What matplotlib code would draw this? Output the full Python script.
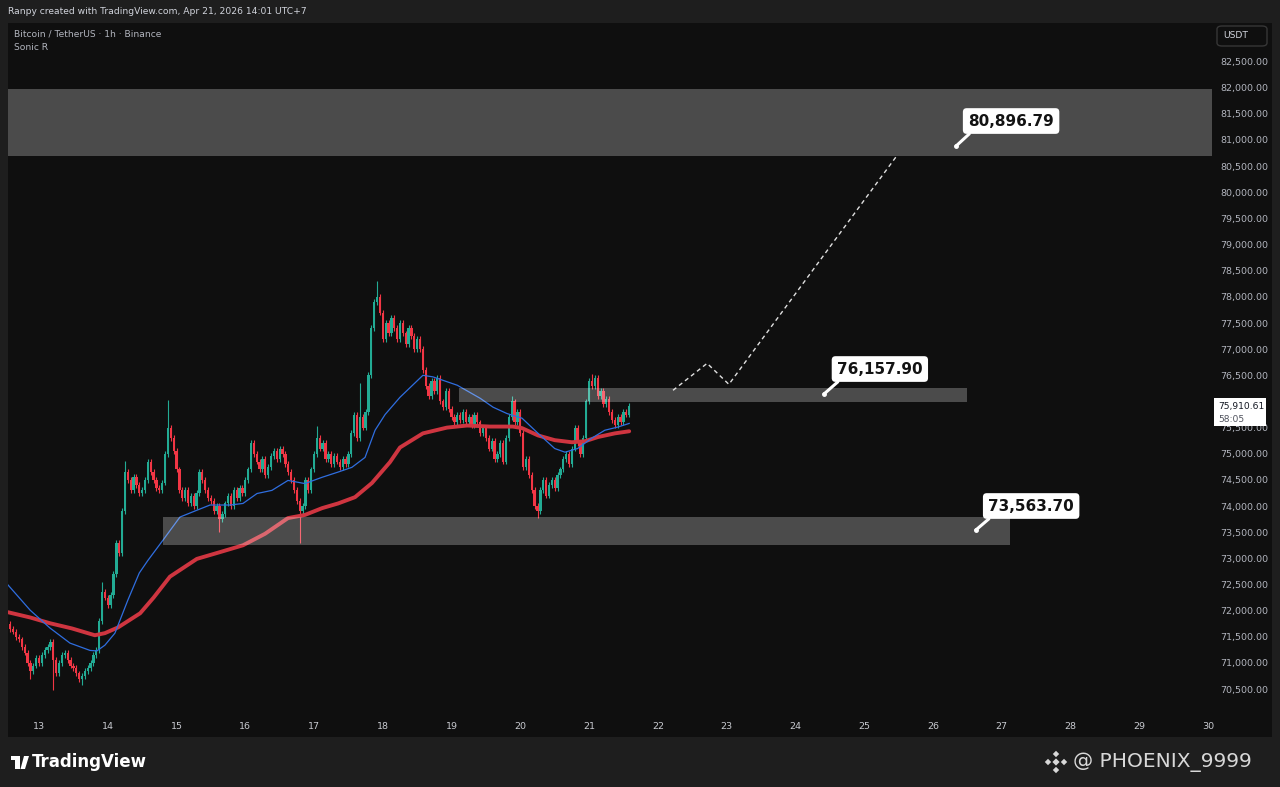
import numpy as np
import matplotlib
matplotlib.use("Agg")
import matplotlib.pyplot as plt
from matplotlib.patches import Rectangle, FancyBboxPatch, Polygon

plt.rcParams['font.family'] = ['DejaVu Sans']

# ---- data (hours counted from Apr 13 00:00, 1h candles) ----
hours = np.arange(-10, 207)
closes = [
    # Apr 12 14:00 - 23:00
    71650, 71600, 71500, 71450, 71300, 71200, 71000, 70850, 70950, 71100,
    # Apr 13
    71000, 71150, 71250, 71300, 71400, 71050, 70800, 71000, 71150, 71200, 71050, 70950,
    70900, 70800, 70700, 70750, 70850, 70900, 71000, 71150, 71250, 71800, 72350, 72250,
    # Apr 14
    72100, 72300, 72700, 73300, 73100, 73900, 74650, 74500, 74300, 74550, 74400, 74250,
    74300, 74500, 74850, 74650, 74500, 74350, 74300, 74450, 75000, 75500, 75300, 75050,
    # Apr 15
    74700, 74300, 74150, 74300, 74050, 74200, 74000, 74250, 74650, 74500, 74300, 74150,
    74100, 73900, 74000, 73750, 73850, 74050, 74200, 74000, 74300, 74150, 74350, 74250,
    # Apr 16
    74500, 74700, 75200, 75000, 74850, 74700, 74900, 74600, 74750, 74950, 75050, 74900,
    75100, 75000, 74800, 74650, 74500, 74300, 74100, 73900, 74000, 74500, 74300, 74700,
    # Apr 17
    75000, 75300, 75100, 75200, 74900, 75000, 74800, 74950, 74850, 74750, 74900, 74800,
    75000, 75400, 75750, 75300, 75700, 75500, 75800, 76500, 77400, 77900, 78000, 77700,
    # Apr 18
    77200, 77500, 77300, 77600, 77400, 77200, 77500, 77300, 77100, 77400, 77250, 77000,
    77200, 77000, 76600, 76300, 76100, 76400, 76200, 76450, 76000, 75900, 76200, 75850,
    # Apr 19
    75700, 75600, 75750, 75650, 75800, 75600, 75700, 75550, 75750, 75600, 75400, 75500,
    75300, 75100, 75250, 74900, 75000, 75200, 74850, 75300, 75700, 76000, 75600, 75800,
    # Apr 20
    75400, 74750, 74900, 74600, 74300, 74000, 73900, 74300, 74500, 74200, 74400, 74500,
    74350, 74600, 74700, 74900, 75000, 74800, 75100, 75500, 75200, 75000, 75300, 76000,
    # Apr 21
    76400, 76300, 76450, 76100, 76200, 75950, 76050, 75800, 75650, 75550, 75700, 75600,
    75800, 75750, 75910.61,
]
first_open = 71750
# long wicks (hour -> price)
wick_high = {22: 72550, 30: 74870, 45: 76020, 97: 75540, 112: 76350,
             118: 78310, 165: 76100, 193: 76530}
wick_low = {-3: 70700, 5: 70480, 15: 70575, 63: 73500, 91: 73290, 174: 73770}

# Sonic R moving averages (hour, price)
fast_t = [-10.8, -3.1, 3.8, 10.8, 17.8, 20.2, 23, 26.5, 31, 35, 38, 43.3, 49.2, 55.1,
          59.7, 66.7, 71.2, 76.1, 81.3, 86.9, 92.8, 98.8, 104.4, 109.2, 113.8, 117.3,
          120.8, 126, 134, 137.5, 146, 154, 158.5, 163.3, 168.6, 174.2, 180, 183.6,
          188, 193, 197.5, 202, 206]
fast_ma = [72490, 72010, 71670, 71380, 71240, 71230, 71340, 71570, 72200, 72720, 72960,
           73350, 73790, 73920, 74020, 74020, 74050, 74240, 74300, 74490, 74430, 74550,
           74650, 74740, 74930, 75450, 75750, 76080, 76500, 76470, 76310, 76060, 75890,
           75770, 75680, 75390, 75100, 75030, 75100, 75300, 75450, 75510, 75580]
slow_t = [-10.8, -3.1, 3.8, 11.5, 19.5, 23, 27.6, 35.3, 40, 45.7, 55.1, 63.2, 71.2,
          78.9, 86.9, 92.8, 98.8, 104.4, 110.3, 116.2, 122.5, 126, 134, 142.4, 149.4,
          157.4, 165.4, 168.6, 174.2, 180, 186, 190.6, 195.1, 201, 206]
slow_ma = [71970, 71870, 71760, 71660, 71530, 71570, 71680, 71950, 72250, 72650, 72990,
           73120, 73250, 73470, 73770, 73830, 73960, 74050, 74170, 74440, 74840, 75120,
           75390, 75500, 75540, 75520, 75520, 75490, 75350, 75260, 75220, 75240, 75320,
           75390, 75430]

# zones (hour start, hour end, low, high)
zones = [(-12, 412, 80685, 81965),
         (146.6, 323.9, 75985, 76250),
         (43.3, 338.9, 73250, 73786)]

# projected path
path_t = [221.3, 233.2, 240.8, 299.5]
path_p = [76213, 76729, 76327, 80704]

# callouts: text, point (hour, price), box centre (hour, price)
callouts = [("80,896.79", (320.1, 80884), (339.3, 81362)),
            ("76,157.90", (274.0, 76143), (293.5, 76620)),
            ("73,563.70", (327.0, 73542), (346.3, 74001))]

day_labels = [str(d) for d in range(13, 31)]
day_ticks = [24 * i for i in range(len(day_labels))]
price_ticks = list(range(70500, 83000, 500))
last_price = closes[-1]

# ---- style ----
BG = '#0f0f0f'
OUTER = '#1e1e1e'
UP = '#22ab94'
DOWN = '#f23645'
TXT = '#b2b5be'
W, H = 1280, 787


def fx(x, y):
    return x / W, 1 - y / H


fig = plt.figure(figsize=(12.8, 7.87), dpi=100, facecolor=OUTER)
fig.patches.append(Rectangle(fx(8, 737), 1264 / W, 714 / H, transform=fig.transFigure,
                             facecolor=BG, edgecolor='none', zorder=-1))

ax = fig.add_axes([8 / W, 1 - 715 / H, 1204 / W, 692 / H])
ax.set_facecolor(BG)
for s in ax.spines.values():
    s.set_visible(False)

# candles
opens = [first_open] + closes[:-1]
o = np.array(opens, float)
c = np.array(closes, float)
WICK_PAD = 55
hi = np.maximum(o, c) + WICK_PAD
lo = np.minimum(o, c) - WICK_PAD
for h, v in wick_high.items():
    hi[h + 10] = v
for h, v in wick_low.items():
    lo[h + 10] = v
cols = np.where(c >= o, UP, DOWN)
ax.vlines(hours, lo, hi, colors=cols, lw=0.8, zorder=3)
body = np.where(np.abs(c - o) < 25, 25, c - o)
ax.bar(hours, body, bottom=o, width=0.8, color=cols, linewidth=0, zorder=4)

# moving averages
ax.plot(slow_t, slow_ma, color='#cf3540', lw=2.8, solid_capstyle='round',
        solid_joinstyle='round', zorder=5)
ax.plot(fast_t, fast_ma, color='#2f6ee0', lw=0.9, solid_joinstyle='round', zorder=5)

# zones
for t0, t1, p0, p1 in zones:
    ax.add_patch(Rectangle((t0, p0), t1 - t0, p1 - p0, facecolor='white', alpha=0.25,
                           edgecolor='none', zorder=6))

# projection
ax.plot(path_t, path_p, color='#e0e0e0', lw=1.0, ls=(0, (3, 2.5)), zorder=7)

# callouts
for txt, pt, ctr in callouts:
    ax.plot(*pt, 'o', color='white', ms=2.5, zorder=8)
    ax.annotate(txt, xy=pt, xytext=ctr, ha='center', va='center', fontsize=11,
                fontweight='bold', color='#131313', zorder=9,
                bbox=dict(boxstyle='round,pad=0.35,rounding_size=0.25', fc='white',
                          ec='none'),
                arrowprops=dict(arrowstyle='-', color='white', lw=2.2, shrinkA=0,
                                shrinkB=0, relpos=(0.08, 0.0)))

ax.set_xlim((8 - 39) / 2.865, (1212 - 39) / 2.865)
ax.set_ylim(82500 - 653.5 * 19.12, 82500 + 38.5 * 19.12)
ax.set_xticks(day_ticks)
ax.set_xticklabels(day_labels)
ax.yaxis.tick_right()
ax.set_yticks(price_ticks)
ax.set_yticklabels([f"{p:,.2f}" for p in price_ticks])
ax.tick_params(axis='both', length=0, colors=TXT, labelsize=6.8)
ax.tick_params(axis='x', pad=5, colors='#c8cad0')
ax.tick_params(axis='y', pad=6)
# the 76,000 label sits under the live price tag
for lbl, p in zip(ax.get_yticklabels(), price_ticks):
    if p == 76000:
        lbl.set_visible(False)

# current price tag
fig.patches.append(Rectangle(fx(1214, 426), 52 / W, 28 / H, transform=fig.transFigure,
                             facecolor='white', edgecolor='none', zorder=10))
fig.text(*fx(1218, 406), f"{last_price:,.2f}", fontsize=6.6, color='#131722',
         va='center', zorder=11)
fig.text(*fx(1218, 419), "58:05", fontsize=6.6, color='#50535e', va='center', zorder=11)

# USDT box
fig.patches.append(FancyBboxPatch(fx(1217, 46), 50 / W, 20 / H, transform=fig.transFigure,
                                  boxstyle='round,pad=0,rounding_size=0.004',
                                  facecolor=BG, edgecolor='#363636', lw=1, zorder=10))
fig.text(*fx(1223, 36), "USDT", fontsize=6.6, color='#d1d4dc', va='center', zorder=11)

# header texts
fig.text(*fx(8, 11), "Ranpy created with TradingView.com, Apr 21, 2026 14:01 UTC+7",
         fontsize=6.6, color='#d1d4dc', va='center')
fig.text(*fx(14, 34), "Bitcoin / TetherUS · 1h · Binance", fontsize=6.6, color=TXT,
         va='center')
fig.text(*fx(14, 48), "Sonic R", fontsize=6.6, color=TXT, va='center')

# footer: TradingView logo + watermark
fig.patches.append(Rectangle(fx(11, 760), 9 / W, 4 / H, transform=fig.transFigure,
                             facecolor='white', zorder=10))
fig.patches.append(Rectangle(fx(15, 769), 5 / W, 13 / H, transform=fig.transFigure,
                             facecolor='white', zorder=10))
fig.patches.append(Polygon([fx(24, 756), fx(29, 756), fx(25, 769), fx(20.5, 769)],
                           closed=True, transform=fig.transFigure, facecolor='white',
                           zorder=10))
fig.text(*fx(32, 762), "TradingView", fontsize=12, fontweight='bold', color='white',
         va='center')

cx, cy = 1056, 762
for dx, dy, s in [(0, -8, 3.2), (0, 8, 3.2), (-8, 0, 3.2), (8, 0, 3.2), (0, 0, 3.6)]:
    x0, y0 = cx + dx, cy + dy
    fig.patches.append(Polygon([fx(x0, y0 - s), fx(x0 + s, y0), fx(x0, y0 + s),
                                fx(x0 - s, y0)], closed=True, transform=fig.transFigure,
                               facecolor='#d8d8d8', zorder=10))
fig.text(*fx(1073, 762), "@ PHOENIX_9999", fontsize=14.5, color='#d8d8d8', va='center')

fig.savefig("out.png", dpi=100, facecolor=OUTER)
